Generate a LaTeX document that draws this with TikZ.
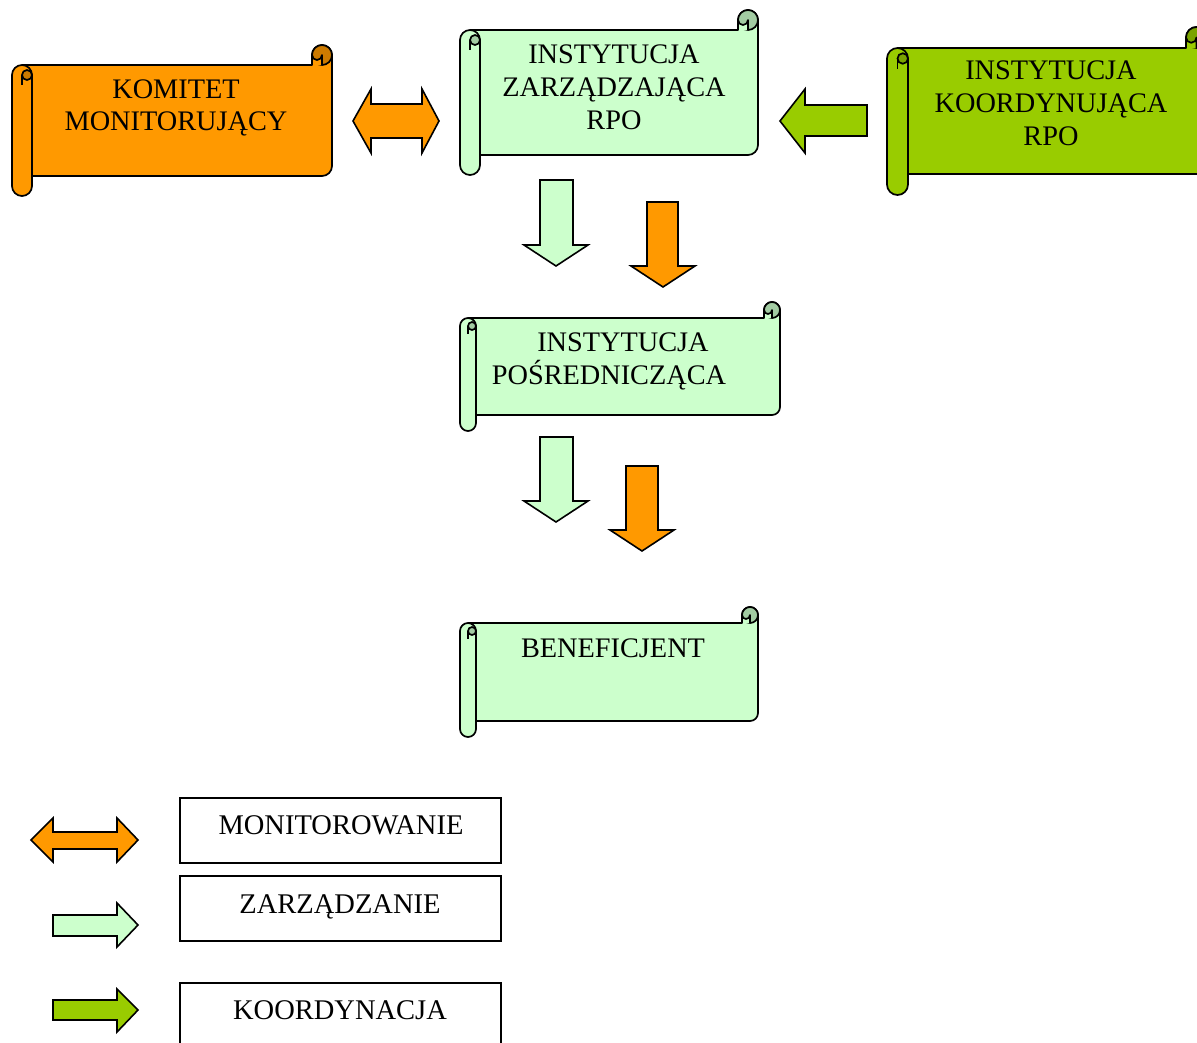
\documentclass[tikz,border=0pt]{standalone}
\usepackage{fontspec}
\setmainfont{Liberation Serif}
\definecolor{org}{HTML}{FF9900}
\definecolor{orgD}{HTML}{CC7A00}
\definecolor{lgr}{HTML}{CCFFCC}
\definecolor{lgrD}{HTML}{A3CCA3}
\definecolor{grn}{HTML}{99CC00}
\definecolor{grnD}{HTML}{7AA300}
\tikzset{
  outl/.style={draw=black, line width=1.7pt, line join=round},
  blk/.style={draw=black, line width=1.6pt, line join=miter},
  legbox/.style={draw=black, line width=1.4pt},
  lbl/.style={font=\fontsize{28.3}{33}\selectfont, inner sep=0pt, anchor=base},
  leglbl/.style={font=\fontsize{28.5}{33}\selectfont, inner sep=0pt, anchor=base}
}
\newcommand\scrollshape[7]{%
 \pgfmathsetmacro\sL{#1}\pgfmathsetmacro\sT{-(#2)}\pgfmathsetmacro\sR{#3}\pgfmathsetmacro\sB{-(#4)}%
 \pgfmathsetmacro\sc{#5}\pgfmathsetmacro\sh{#5/2}\pgfmathsetmacro\sq{#5/4}%
 \draw[outl, fill=#6] ({\sL},{\sT-1.5*\sc}) arc[start angle=180,end angle=90,radius=\sh]
   -- ({\sR-\sc},{\sT-\sc}) -- ({\sR-\sc},{\sT-\sh}) arc[start angle=180,end angle=0,radius=\sh]
   -- ({\sR},{\sB+1.5*\sc}) arc[start angle=0,end angle=-90,radius=\sh]
   -- ({\sL+\sc},{\sB+\sc}) -- ({\sL+\sc},{\sB+\sh}) arc[start angle=0,end angle=-180,radius=\sh] -- cycle;
 \draw[outl, fill=#7] ({\sR-\sh},{\sT-\sh}) circle[radius=\sh];
 \draw[outl, fill=#6] ({\sR-\sc},{\sT-\sc}) -- ({\sR-\sc},{\sT-\sh}) arc[start angle=180,end angle=360,radius=\sq] -- ({\sR-\sh},{\sT-\sc});
 \draw[outl] ({\sL+\sh},{\sT-\sc}) arc[start angle=90,end angle=0,radius=\sh] -- ({\sL+\sc},{\sB+\sh});
 \draw[outl, fill=#7] ({\sL+0.75*\sc},{\sT-1.5*\sc}) circle[radius=\sq];
 \draw[outl] ({\sL+\sh},{\sT-1.5*\sc}) -- ({\sL+\sh},{\sT-2*\sc});
}
\begin{document}
\begin{tikzpicture}[x=1pt,y=1pt]
\useasboundingbox (0,0) rectangle (1197,-1042);
\clip (0,0) rectangle (1197,-1042);

% scrolls
\scrollshape{12}{45}{332}{196}{20}{org}{orgD}
\scrollshape{460}{10}{758}{175}{20}{lgr}{lgrD}
\scrollshape{887}{27}{1207}{195}{21}{grn}{grnD}
\scrollshape{460}{302}{780}{431}{16}{lgr}{lgrD}
\scrollshape{460}{607}{758}{737}{16}{lgr}{lgrD}

% scroll texts
\node[lbl] (km1) at (176,-98) {KOMITET};
\node[lbl] (km2) at (176,-130) {MONITORUJĄCY};
\node[lbl] (iz1) at (614,-63) {INSTYTUCJA};
\node[lbl] (iz2) at (614,-96) {ZARZĄDZAJĄCA};
\node[lbl] (iz3) at (614,-129) {RPO};
\node[lbl] (ik1) at (1051,-79) {INSTYTUCJA};
\node[lbl] (ik2) at (1051,-112) {KOORDYNUJĄCA};
\node[lbl] (ik3) at (1051,-145) {RPO};
\node[lbl] (ip1) at (623,-351) {INSTYTUCJA};
\node[lbl] (ip2) at (609,-384) {POŚREDNICZĄCA};
\node[lbl] (ben) at (613,-657) {BENEFICJENT};

% top double arrow (monitoring)
\draw[blk, fill=org] (353,-121) -- (371,-89) -- (371,-104) -- (422,-104) -- (422,-89) -- (439,-121)
  -- (422,-153) -- (422,-138) -- (371,-138) -- (371,-153) -- cycle;
% coordination arrow (left)
\draw[blk, fill=grn] (780,-121) -- (805,-89) -- (805,-105) -- (867,-105) -- (867,-136) -- (805,-136) -- (805,-153) -- cycle;

% down arrows
\draw[blk, fill=lgr] (540,-180) -- (573,-180) -- (573,-245) -- (588,-245) -- (556,-266) -- (524,-245) -- (540,-245) -- cycle;
\draw[blk, fill=org] (647,-202) -- (678,-202) -- (678,-266) -- (695,-266) -- (663,-287) -- (631,-266) -- (647,-266) -- cycle;
\draw[blk, fill=lgr] (540,-437) -- (573,-437) -- (573,-501) -- (588,-501) -- (556,-522) -- (524,-501) -- (540,-501) -- cycle;
\draw[blk, fill=org] (626,-466) -- (658,-466) -- (658,-530) -- (674,-530) -- (642,-551) -- (610,-530) -- (626,-530) -- cycle;

% legend
\draw[blk, fill=org] (31,-840) -- (53,-818) -- (53,-832) -- (117,-832) -- (117,-818) -- (138,-840)
  -- (117,-862) -- (117,-849) -- (53,-849) -- (53,-862) -- cycle;
\draw[blk, fill=lgr] (53,-915) -- (117,-915) -- (117,-903) -- (138,-925) -- (117,-947) -- (117,-936) -- (53,-936) -- cycle;
\draw[blk, fill=grn] (53,-1000) -- (117,-1000) -- (117,-989) -- (138,-1010) -- (117,-1032) -- (117,-1020) -- (53,-1020) -- cycle;

\draw[legbox] (180,-798) rectangle (501,-863);
\draw[legbox] (180,-876) rectangle (501,-941);
\draw[legbox] (180,-983) rectangle (501,-1060);
\node[leglbl] (lm) at (341,-834) {MONITOROWANIE};
\node[leglbl] (lz) at (340,-913) {ZARZĄDZANIE};
\node[leglbl] (lk) at (340,-1019) {KOORDYNACJA};
\end{tikzpicture}
\end{document}
